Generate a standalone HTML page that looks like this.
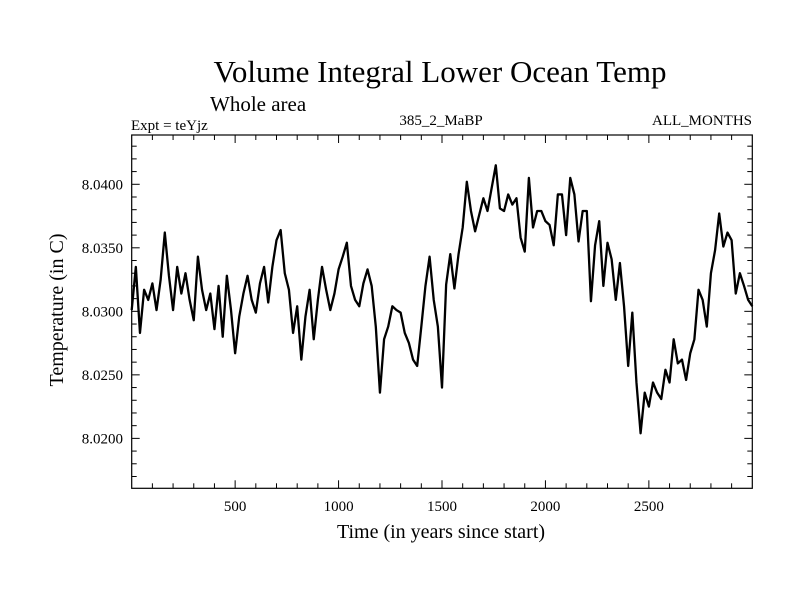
<!DOCTYPE html>
<html><head><meta charset="utf-8"><style>
body{margin:0;background:#fff}
svg text{font-family:"Liberation Serif",serif;fill:#000}
</style></head><body>
<svg id="chart" width="800" height="600" xmlns="http://www.w3.org/2000/svg">
<rect width="800" height="600" fill="#fff"/>
<text x="440" y="82" font-size="31" text-anchor="middle">Volume Integral Lower Ocean Temp</text>
<text x="210" y="111" font-size="21">Whole area</text>
<text x="131" y="130" font-size="15">Expt = teYjz</text>
<text x="441" y="125" font-size="15" text-anchor="middle">385_2_MaBP</text>
<text x="752" y="125" font-size="15" text-anchor="end">ALL_MONTHS</text>
<text x="441" y="538" font-size="20" text-anchor="middle">Time (in years since start)</text>
<text transform="translate(63,310) rotate(-90)" font-size="20" text-anchor="middle">Temperature (in C)</text>
<g id="axes"></g>
<path id="series" fill="none" stroke="#000" stroke-width="2.3" stroke-linejoin="round"/>
<rect x="131.7" y="135" width="620.6" height="353.3" fill="none" stroke="#000" stroke-width="1.2"/>
</svg>
<script>
const startYear = 0;
const yearStep = 20;
const temps = [
8.0301,8.0335,8.0283,8.0317,8.0309,8.0322,8.0301,8.0325,8.0362,8.0328,8.0301,8.0335,8.0314,8.0330,8.0309,8.0293,8.0343,8.0317,8.0301,8.0314,8.0286,8.0320,8.0280,8.0328,8.0301,8.0267,8.0296,8.0314,8.0328,8.0309,8.0299,8.0322,8.0335,8.0307,8.0335,8.0356,8.0364,8.0330,8.0317,
8.0283,8.0304,8.0262,8.0296,8.0317,8.0278,8.0309,8.0335,8.0317,8.0301,8.0314,8.0333,8.0343,8.0354,8.0320,8.0309,8.0304,8.0322,8.0333,8.0320,8.0288,8.0236,8.0278,8.0288,8.0304,8.0301,8.0299,8.0283,8.0275,8.0262,8.0257,8.0288,8.0320,8.0343,8.0309,8.0288,8.0240,
8.0321,8.0345,8.0318,8.0345,8.0366,8.0402,8.0379,8.0363,8.0376,8.0389,8.0379,8.0397,8.0415,8.0381,8.0379,8.0392,8.0384,8.0389,8.0358,8.0347,8.0405,8.0366,8.0379,8.0379,8.0371,8.0368,8.0352,8.0392,8.0392,8.0360,8.0405,8.0392,8.0355,8.0379,8.0379,8.0308,8.0352,8.0371,
8.0320,8.0354,8.0341,8.0309,8.0338,8.0304,8.0257,8.0299,8.0244,8.0204,8.0236,8.0225,8.0244,8.0236,8.0231,8.0254,8.0244,8.0278,8.0259,8.0262,8.0246,8.0267,8.0278,8.0317,8.0309,8.0288,8.0330,8.0348,8.0377,8.0351,8.0362,8.0356,8.0314,8.0330,8.0320,8.0309,8.0304
];
const xTicks = [500,1000,1500,2000,2500];
const yTicks = [8.0200,8.0250,8.0300,8.0350,8.0400];
const yTickLabels = ["8.0200","8.0250","8.0300","8.0350","8.0400"];
const xDomain = [0,3000];
const yDomain = [8.01607,8.04388];

const L=131.7,R=752.3,T=135,B=488.3;
const sx=v=>L+(v-xDomain[0])/(xDomain[1]-xDomain[0])*(R-L);
const sy=v=>B-(v-yDomain[0])/(yDomain[1]-yDomain[0])*(B-T);
const NS="http://www.w3.org/2000/svg";
const axes=document.getElementById('axes');
function line(x1,y1,x2,y2,name){
  const l=document.createElementNS(NS,'line');
  l.setAttribute('x1',x1);l.setAttribute('y1',y1);l.setAttribute('x2',x2);l.setAttribute('y2',y2);
  l.setAttribute('stroke','#000');l.setAttribute('stroke-width','1');
  
  
  axes.appendChild(l);
}
function text(x,y,s,anchor,name){
  const t=document.createElementNS(NS,'text');
  t.setAttribute('x',x);t.setAttribute('y',y);t.setAttribute('font-size','15');t.setAttribute('text-anchor',anchor);
  t.textContent=s;
  
  
  axes.appendChild(t);
}
for(let v=xDomain[0]+100; v<xDomain[1]; v+=100){
  const x=sx(v), major=(v%500===0), len=major?8:5;
  line(x,B,x,B-len,'x-tick');
  line(x,T,x,T+len,'x-tick-top');
}
xTicks.forEach(v=>text(sx(v),511,String(v),'middle','x-tick-label'));
for(let k=Math.ceil(yDomain[0]/0.001); k*0.001<=yDomain[1]; k++){
  const v=k*0.001, y=sy(v), major=(k%5===0), len=major?8:5;
  line(L,y,L+len,y,'y-tick');
  line(R,y,R-len,y,'y-tick-right');
}
yTicks.forEach((v,i)=>text(123,sy(v)+5,yTickLabels[i],'end','y-tick-label'));
let d='';
temps.forEach((v,i)=>{const yr=startYear+i*yearStep;d+=(i?'L':'M')+sx(yr).toFixed(2)+','+sy(v).toFixed(2);});
document.getElementById('series').setAttribute('d',d);
</script>
</body></html>
